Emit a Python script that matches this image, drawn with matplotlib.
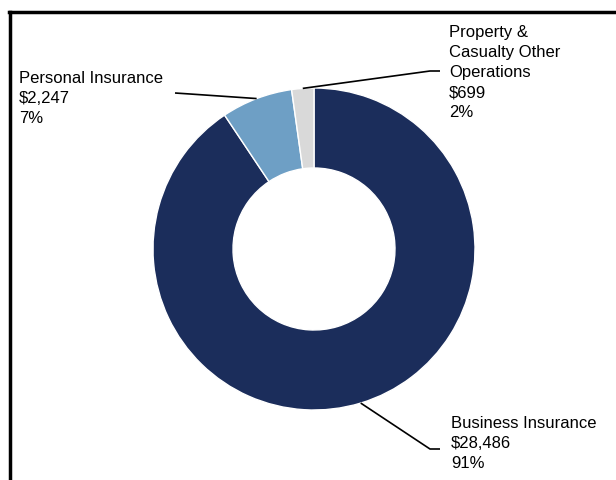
import numpy as np
import matplotlib.pyplot as plt
from matplotlib.lines import Line2D

plt.rcParams['font.family'] = ['Liberation Sans', 'DejaVu Sans']

# Segment revenues ($ millions)
segments = ['Business Insurance', 'Personal Insurance', 'Property &\nCasualty Other\nOperations']
revenues = [28486, 2247, 699]
colors = ['#1b2d5b', '#6e9fc5', '#d9d9d9']

W, H = 616, 481
fig = plt.figure(figsize=(W / 100, H / 100), dpi=100)
ax = fig.add_axes([0, 0, 1, 1])

cx, cy, R = 314, H - 250, 161
wedges, _ = ax.pie(revenues, colors=colors, startangle=90, counterclock=False,
                   center=(cx, cy), radius=R,
                   wedgeprops=dict(width=80, edgecolor='white', linewidth=1))
ax.set_xlim(0, W)
ax.set_ylim(0, H)
ax.set_aspect('equal')
ax.axis('off')

total = sum(revenues)
labels = ['%s\n$%s\n%d%%' % (s, format(v, ','), round(100 * v / total))
          for s, v in zip(segments, revenues)]

# leader line: wedge edge -> elbow -> short tail, then text block
layout = {
    0: dict(elbow=(430, H - 450), tail=(440, H - 450), text=(451, H - 416)),
    1: dict(elbow=(190, H - 95), tail=(175, H - 94), text=(19, H - 71)),
    2: dict(elbow=(430, H - 72), tail=(440, H - 72), text=(449, H - 25)),
}
for i, w in enumerate(wedges):
    ang = np.deg2rad((w.theta1 + w.theta2) / 2)
    sx, sy = cx + R * np.cos(ang), cy + R * np.sin(ang)
    L = layout[i]
    ax.plot([sx, L['elbow'][0], L['tail'][0]], [sy, L['elbow'][1], L['tail'][1]],
            color='black', lw=1.2, solid_capstyle='butt')
    ax.text(L['text'][0], L['text'][1], labels[i], ha='left', va='top',
            fontsize=12, linespacing=1.42, color='black')

# frame lines along top and left
fig.add_artist(Line2D([9 / W, 1], [1 - 13 / H, 1 - 13 / H], color='black', lw=2.5,
                      transform=fig.transFigure))
fig.add_artist(Line2D([10 / W, 10 / W], [0, 1 - 13 / H], color='black', lw=2.5,
                      transform=fig.transFigure))

fig.savefig('out.png', dpi=100, facecolor='white')
